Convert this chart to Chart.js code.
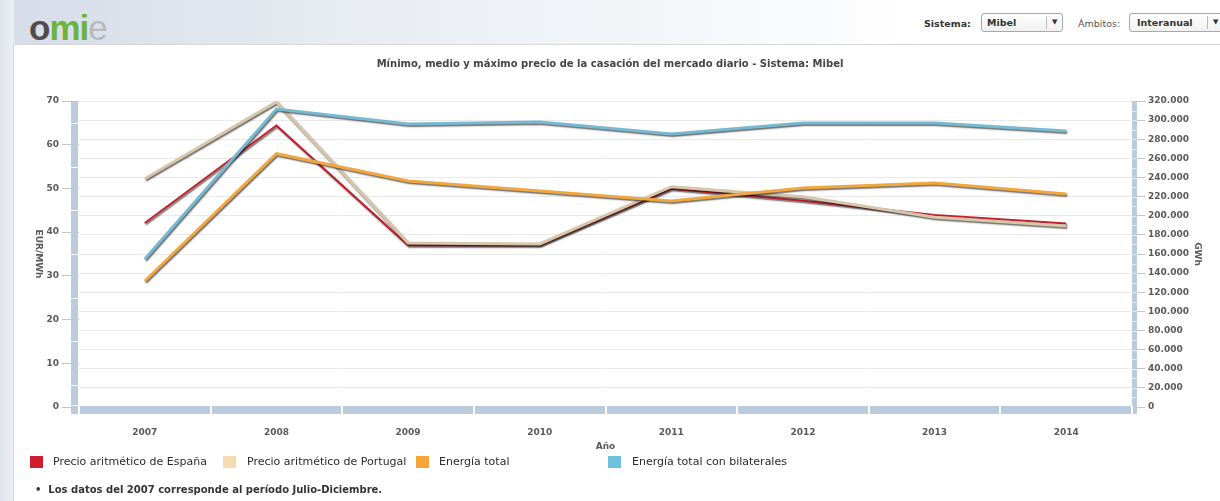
<!DOCTYPE html>
<html>
<head>
<meta charset="utf-8">
<script src="https://cdn.jsdelivr.net/npm/chart.js@4/dist/chart.umd.min.js"></script>
<style>
  body { margin: 0; width: 1220px; height: 501px; overflow: hidden; background: #fff; font-family: "DejaVu Sans", Verdana, sans-serif; position: relative; }
  .fondoTop { position: absolute; left: 0; top: 0; width: 1220px; height: 44px;
    background: linear-gradient(to right, #d5dce8 0%, #e9edf3 30%, #f4f6f9 55%, #ffffff 75%); }
  .fondoIzq { position: absolute; left: 0; top: 0; width: 14px; height: 501px;
    background: linear-gradient(to right, #dfe4ec, #eceff4); }
  .caja { position: absolute; left: 13px; top: 44px; width: 1220px; height: 470px; background: #fff; border-left: 1px solid #d4d4d4; border-top: 1px solid #d8d8d8; }
  #grafica { position: absolute; left: 0; top: 0; }
  .logo { position: absolute; left: 29px; top: 8px; font-family: "Liberation Sans", Arial, sans-serif; font-weight: bold; font-size: 35px; letter-spacing: -1px; }
  .logo .o { color: #4d4d4d; }
  .logo .m { color: #6cb33e; }
  .logo .i { color: #6cb33e; }
  .logo .e { color: #b8b8b8; font-weight: normal; }
  .etq { position: absolute; top: 18px; font-size: 9.5px; color: #333; }
  .sel { position: absolute; top: 13px; height: 19px; border: 1px solid #a8a8a8; border-radius: 3px; background: linear-gradient(#ffffff, #f1f1f1); font-size: 9.5px; font-weight: bold; color: #333; box-sizing: border-box; }
  .sel span { position: absolute; top: 3px; }
  .sel .div { position: absolute; top: 2px; width: 1px; height: 13px; background: #bbb; }
  .sel .flecha { position: absolute; top: 4px; font-size: 7px; font-weight: normal; }
  .titulo { position: absolute; left: 0; width: 1220px; top: 58px; text-align: center; font-size: 10px; font-weight: bold; color: #444; }
  .leyenda { position: absolute; top: 455px; font-size: 11px; color: #2a2a2a; }
  .cuadro { position: absolute; top: 456px; width: 13px; height: 12px; }
  .nota { position: absolute; left: 35px; top: 484px; font-size: 10px; font-weight: bold; color: #333; }
</style>
</head>
<body>
<div class="fondoTop"></div>
<div class="fondoIzq"></div>
<div class="caja"></div>

<div class="logo"><span class="o">o</span><span class="m">m</span><span class="i">i</span><span class="e">e</span></div>

<div class="etq" style="left:924px;font-weight:bold;">Sistema:</div>
<div class="sel" style="left:981px;width:82px;"><span style="left:5px;">Mibel</span><div class="div" style="left:64px;"></div><span class="flecha" style="left:70px;">&#9660;</span></div>
<div class="etq" style="left:1078px;color:#555;">Ámbitos:</div>
<div class="sel" style="left:1129px;width:100px;"><span style="left:7px;">Interanual</span><div class="div" style="left:77px;"></div><span class="flecha" style="left:83px;">&#9660;</span></div>

<canvas id="grafica" width="1220" height="501"></canvas>

<div class="titulo">Mínimo, medio y máximo precio de la casación del mercado diario - Sistema: Mibel</div>

<div class="cuadro" style="left:30px;background:#cf1f2e;"></div>
<div class="leyenda" style="left:53px;">Precio aritmético de España</div>
<div class="cuadro" style="left:223px;background:#f5dcae;"></div>
<div class="leyenda" style="left:247px;">Precio aritmético de Portugal</div>
<div class="cuadro" style="left:416px;background:#f7a43a;"></div>
<div class="leyenda" style="left:439px;">Energía total</div>
<div class="cuadro" style="left:608px;background:#6ec0dd;"></div>
<div class="leyenda" style="left:632px;">Energía total con bilaterales</div>

<div class="nota">&bull;&nbsp;&nbsp;Los datos del 2007 corresponde al período Julio-Diciembre.</div>

<script>
const anios = ["2007", "2008", "2009", "2010", "2011", "2012", "2013", "2014"];
const precioEspana = [42.1, 64.4, 37.0, 37.0, 49.9, 47.2, 43.9, 42.0];
const precioPortugal = [52.2, 69.8, 37.5, 37.3, 50.4, 48.1, 43.4, 41.4];
const energiaTotal = [131800, 264900, 236300, 225900, 215400, 229000, 234200, 222700];
const energiaBilaterales = [154800, 311600, 295900, 298000, 285500, 297000, 297000, 288600];

const tituloEur = "EUR/MWh";
const tituloGwh = "GWh";
const tituloAnio = "Año";

const fuenteEje = { family: "DejaVu Sans", size: 9, weight: "bold" };
const colorEje = "#5a5a5a";
const colorBarra = "#bacbdc";

function formatoMiles(v) {
  return String(v).replace(/\B(?=(\d{3})+(?!\d))/g, ".");
}

// sombra de las lineas como en highcharts
const sombra = {
  id: "sombra",
  beforeDatasetDraw(chart) {
    const ctx = chart.ctx;
    ctx.save();
    ctx.shadowColor = "rgba(0,0,0,0.6)";
    ctx.shadowOffsetX = 1;
    ctx.shadowOffsetY = 1.5;
    ctx.shadowBlur = 1.5;
  },
  afterDatasetDraw(chart) {
    chart.ctx.restore();
  }
};

// barras de los ejes y titulos girados
const barrasEjes = {
  id: "barrasEjes",
  beforeDatasetsDraw(chart) {
    const ctx = chart.ctx;
    const a = chart.chartArea;
    const yIzq = chart.scales.yIzq;
    const yDer = chart.scales.yDer;
    ctx.save();
    ctx.fillStyle = colorBarra;
    ctx.fillRect(a.left - 8, a.top, 7, a.bottom - a.top + 7);
    ctx.fillRect(a.left - 8, a.bottom - 1, a.right - a.left + 13, 8);
    ctx.fillRect(a.right, a.top, 5, a.bottom - a.top + 7);

    ctx.fillStyle = "#ffffff";
    for (let v = 5; v < 70; v += 10) {
      ctx.fillRect(a.left - 8, Math.round(yIzq.getPixelForValue(v)), 7, 1);
    }
    ctx.fillRect(a.left - 8, a.bottom - 2, 7, 1);
    ctx.fillStyle = "rgba(255,255,255,0.6)";
    for (let v = 10000; v < 320000; v += 10000) {
      ctx.fillRect(a.right, Math.round(yDer.getPixelForValue(v)), 5, 1);
    }
    ctx.fillStyle = "#ffffff";
    const ancho = (a.right - a.left) / anios.length;
    for (let i = 0; i <= anios.length; i++) {
      ctx.fillRect(Math.round(a.left + i * ancho) - 1, a.bottom - 1, 2, 8);
    }
    ctx.restore();
  },
  afterDraw(chart) {
    const ctx = chart.ctx;
    const a = chart.chartArea;
    const medio = (a.top + a.bottom) / 2;
    [[tituloEur, 38], [tituloGwh, 1197]].forEach(([texto, x]) => {
      ctx.save();
      ctx.font = "bold 9px 'DejaVu Sans'";
      ctx.fillStyle = colorEje;
      ctx.textAlign = "center";
      ctx.textBaseline = "middle";
      ctx.translate(x, medio);
      ctx.rotate(Math.PI / 2);
      ctx.fillText(texto, 0, 0);
      ctx.restore();
    });
  }
};

function serie(label, data, color, ancho, eje, orden) {
  return {
    label: label,
    data: data,
    borderColor: color,
    backgroundColor: color,
    borderWidth: ancho,
    pointRadius: 0,
    tension: 0,
    fill: false,
    yAxisID: eje,
    order: orden
  };
}

const ctx = document.getElementById("grafica");

new Chart(ctx, {
  type: "line",
  data: {
    labels: anios,
    datasets: [
      serie("Precio aritmético de España", precioEspana, "#c3202e", 2, "yIzq", 3),
      serie("Precio aritmético de Portugal", precioPortugal, "#d8c6ab", 3, "yIzq", 2),
      serie("Energía total", energiaTotal, "#f2a640", 3, "yDer", 1),
      serie("Energía total con bilaterales", energiaBilaterales, "#78b9d2", 3, "yDer", 0)
    ]
  },
  options: {
    responsive: false,
    animation: false,
    devicePixelRatio: 1,
    layout: { padding: { top: 101, left: 0, right: 0, bottom: 0 } },
    plugins: {
      legend: { display: false },
      title: { display: false },
      tooltip: { enabled: false }
    },
    scales: {
      x: {
        offset: true,
        grid: { display: false },
        border: { display: false },
        ticks: { font: fuenteEje, color: colorEje, padding: 12, maxRotation: 0 },
        title: { display: true, text: tituloAnio, font: fuenteEje, color: colorEje, padding: { top: 0, bottom: 49 } },
        afterFit(scale) { scale.height = 94; }
      },
      yIzq: {
        position: "left",
        min: 0,
        max: 70,
        ticks: { stepSize: 10, font: fuenteEje, color: colorEje, padding: 3 },
        grid: { drawOnChartArea: false, tickLength: 17, tickColor: "#c4c4c4" },
        border: { display: false },
        afterFit(scale) { scale.width = 79; }
      },
      yDer: {
        position: "right",
        min: 0,
        max: 320000,
        ticks: { stepSize: 20000, font: fuenteEje, color: colorEje, padding: 3, callback: v => formatoMiles(v) },
        grid: { color: "#eaeaea", tickLength: 13, tickColor: "#c4c4c4" },
        border: { display: false },
        afterFit(scale) { scale.width = 88; }
      }
    }
  },
  plugins: [sombra, barrasEjes]
});
</script>
</body>
</html>
